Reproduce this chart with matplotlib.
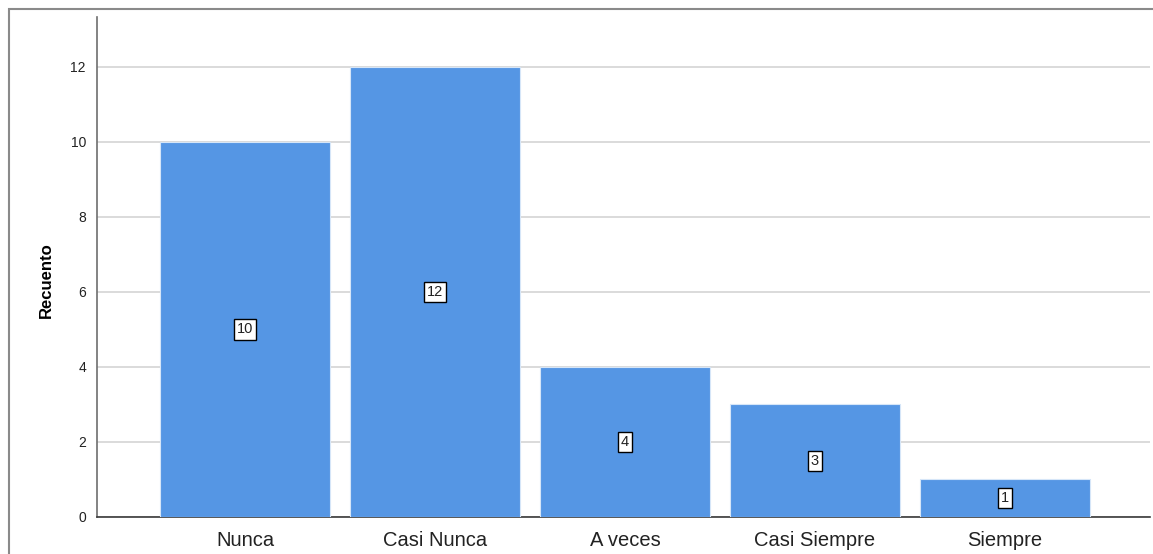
import numpy as np
import matplotlib.pyplot as plt
from matplotlib.patches import Rectangle

# datos
categorias = ["Nunca", "Casi Nunca", "A veces", "Casi Siempre", "Siempre"]
recuento = [10, 12, 4, 3, 1]
yticks = [0, 2, 4, 6, 8, 10, 12]

plt.rcParams['font.family'] = ['Liberation Sans', 'DejaVu Sans']

W, H = 1153, 554
fig = plt.figure(figsize=(W / 100, H / 100), dpi=100)
ax = fig.add_axes([97 / W, 1 - 517 / H, (1150 - 97) / W, (517 - 17) / H])

# marco exterior
fig.patches.append(Rectangle((9 / W, -0.05), 1.1, 1 - 9 / H + 0.05,
                             transform=fig.transFigure, fill=False,
                             edgecolor='#8a8a8a', linewidth=1.5))

x = np.arange(len(categorias))
ax.bar(x, recuento, width=0.895, color='#5596e4', edgecolor='#d6e6f8',
       linewidth=0.8, zorder=3)

for xi, v in zip(x, recuento):
    ax.text(xi, v / 2, str(v), ha='center', va='center', fontsize=10.5,
            color='#222222', zorder=5,
            bbox=dict(boxstyle='square,pad=0.22', facecolor='white',
                      edgecolor='black', linewidth=1))

ax.set_xlim(-0.779, 4.763)
ax.set_ylim(0, 13.33)
ax.set_yticks(yticks)
ax.set_yticklabels([str(t) for t in yticks], fontsize=10, color='#222222')
ax.set_xticks(x)
ax.set_xticklabels(categorias, fontsize=14.5, color='#222222')
ax.tick_params(axis='y', length=0, pad=8)
ax.tick_params(axis='x', length=0, pad=10)
ax.set_ylabel("Recuento", fontsize=12, fontweight='bold', labelpad=12, y=0.474)

ax.yaxis.grid(True, color='#d4d4d4', linewidth=1.2, zorder=0)
ax.set_axisbelow(True)
for s in ['top', 'right']:
    ax.spines[s].set_visible(False)
ax.spines['left'].set_color('#6e6e6e')
ax.spines['bottom'].set_color('#3a3a3a')
ax.spines['left'].set_linewidth(1.2)
ax.spines['bottom'].set_linewidth(1.2)

fig.savefig('out.png', dpi=100)
